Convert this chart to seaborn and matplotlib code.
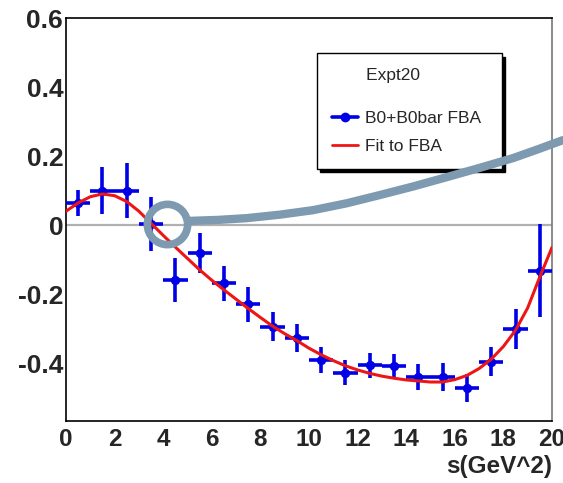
import numpy as np
import pandas as pd
import matplotlib
matplotlib.use("Agg")
import matplotlib.pyplot as plt
from matplotlib.lines import Line2D
from matplotlib.ticker import MultipleLocator
import seaborn as sns

# ---- data ----
s_bins = [0.5, 1.5, 2.5, 3.5, 4.5, 5.5, 6.5, 7.5, 8.5, 9.5,
          10.5, 11.5, 12.5, 13.5, 14.5, 15.5, 16.5, 17.5, 18.5, 19.5]
fba = [0.064, 0.100, 0.100, 0.003, -0.160, -0.082, -0.169, -0.230, -0.295, -0.328,
       -0.391, -0.428, -0.406, -0.410, -0.440, -0.440, -0.473, -0.396, -0.300, -0.132]
fba_err = [0.037, 0.067, 0.080, 0.077, 0.063, 0.058, 0.050, 0.050, 0.042, 0.040,
           0.038, 0.037, 0.036, 0.036, 0.038, 0.040, 0.040, 0.042, 0.058, 0.135]
bin_halfwidth = [0.5] * 20

fit_s = [0.0, 0.5, 1.0, 1.5, 2.0, 2.5, 3.0, 3.5, 4.0, 4.5,
         5.0, 5.5, 6.0, 6.5, 7.0, 7.5, 8.0, 8.5, 9.0, 9.5,
         10.0, 10.5, 11.0, 11.5, 12.0, 12.5, 13.0, 13.5, 14.0, 14.5,
         15.0, 15.5, 16.0, 16.5, 17.0, 17.5, 18.0, 18.5, 19.0, 19.5, 20.0]
fit_val = [0.040, 0.064, 0.082, 0.090, 0.085, 0.068, 0.040, 0.005, -0.030, -0.064,
           -0.097, -0.130, -0.160, -0.188, -0.215, -0.242, -0.268, -0.293, -0.315, -0.335,
           -0.357, -0.376, -0.393, -0.408, -0.420, -0.430, -0.438, -0.444, -0.449, -0.452,
           -0.455, -0.455, -0.448, -0.436, -0.416, -0.389, -0.352, -0.305, -0.240, -0.150,
           -0.065]

# hand-drawn annotation (circle + swoosh)
mark_s = [4.16]
mark_v = [0.003]
swoosh_s = [5.10, 6.30, 7.45, 8.80, 10.16, 11.55, 12.92, 14.30, 15.68, 17.04, 18.40, 19.40, 20.45]
swoosh_v = [0.012, 0.015, 0.020, 0.030, 0.043, 0.063, 0.087, 0.112, 0.139, 0.166, 0.194, 0.219, 0.246]

x_ticks = [0, 2, 4, 6, 8, 10, 12, 14, 16, 18, 20]
y_ticks = [-0.4, -0.2, 0.0, 0.2, 0.4, 0.6]
y_tick_labels = ["-0.4", "-0.2", "0", "0.2", "0.4", "0.6"]
x_tick_labels = ["0", "2", "4", "6", "8", "10", "12", "14", "16", "18", "20"]

# ---- styling ----
sns.set_theme(style="white")
plt.rcParams["font.family"] = ["Liberation Sans", "DejaVu Sans"]

BLUE = "#0000e6"
RED = "#ee1515"
GREY_ANN = "#7d9ab1"

fig = plt.figure(figsize=(5.63, 4.83), dpi=100)
ax = fig.add_axes([66 / 563, 62 / 483, 486 / 563, 403 / 483])

data = pd.DataFrame({"s": s_bins, "fba": fba, "err": fba_err, "hw": bin_halfwidth})
fit = pd.DataFrame({"s": fit_s, "fit": fit_val})

# zero line
ax.axhline(0, color="#b0b0b0", lw=1.6, zorder=1)

# data crosses
ax.errorbar(data["s"], data["fba"], yerr=data["err"], xerr=data["hw"],
            fmt="none", ecolor=BLUE, elinewidth=2.6, capsize=0, zorder=3)
sns.scatterplot(data=data, x="s", y="fba", ax=ax, color=BLUE, s=45,
                edgecolor=BLUE, linewidth=0, zorder=4, legend=False)

# fit curve
sns.lineplot(data=fit, x="s", y="fit", ax=ax, color=RED, lw=2.2, zorder=5,
             legend=False)

ax.set_xlim(0, 20)
ax.set_ylim(-0.568, 0.6)
ax.set_xticks(x_ticks)
ax.set_xticklabels(x_tick_labels)
ax.set_yticks(y_ticks)
ax.set_yticklabels(y_tick_labels)
ax.xaxis.set_minor_locator(MultipleLocator(0.4))
ax.yaxis.set_minor_locator(MultipleLocator(0.05))

ax.tick_params(axis="both", which="both", direction="in", color="black", width=1.0)
ax.tick_params(axis="y", which="major", length=11, pad=2, labelsize=19)
ax.tick_params(axis="y", which="minor", length=5.5)
ax.tick_params(axis="x", which="major", length=8.5, pad=5, labelsize=17.5)
ax.tick_params(axis="x", which="minor", length=4.3)
for lab in ax.get_xticklabels() + ax.get_yticklabels():
    lab.set_fontweight("bold")

for side in ["left", "bottom", "top"]:
    ax.spines[side].set_color("black")
    ax.spines[side].set_linewidth(1.2)
ax.spines["right"].set_color("#777777")
ax.spines["right"].set_linewidth(1.2)

ax.set_ylabel("")
ax.set_xlabel("s(GeV^2)", fontsize=17.5, fontweight="bold", loc="right")
ax.xaxis.set_label_coords(1.0, -0.085)

# legend
h_data = Line2D([], [], color=BLUE, lw=2.6, marker="o", markersize=6)
h_fit = Line2D([], [], color=RED, lw=2.0)
leg = ax.legend([h_data, h_fit], ["B0+B0bar FBA", "Fit to FBA"],
                title="       Expt20", alignment="left",
                loc="upper left", bbox_to_anchor=(0.516, 0.52, 0.381, 0.393),
                mode="expand", fontsize=12.5, title_fontsize=12.5,
                frameon=True, fancybox=False, framealpha=1, edgecolor="black",
                shadow={"ox": 2.5, "oy": -2.5, "color": "black", "alpha": 1},
                handlelength=1.5, handletextpad=0.4, labelspacing=0.75,
                borderpad=0.85, borderaxespad=0)
leg.get_frame().set_linewidth(1.0)
leg.set_zorder(6)
leg._legend_box.sep = 20

# annotation overlay (circle + thick swoosh), drawn over everything
ax.plot(mark_s, mark_v, marker="o", markersize=29, markerfacecolor="none",
        markeredgecolor=GREY_ANN, markeredgewidth=5.5, ls="none",
        zorder=8, clip_on=False)
ax.plot(swoosh_s, swoosh_v, color=GREY_ANN, lw=6, solid_capstyle="round",
        solid_joinstyle="round", zorder=8, clip_on=False)

fig.savefig("out.png", dpi=100)
